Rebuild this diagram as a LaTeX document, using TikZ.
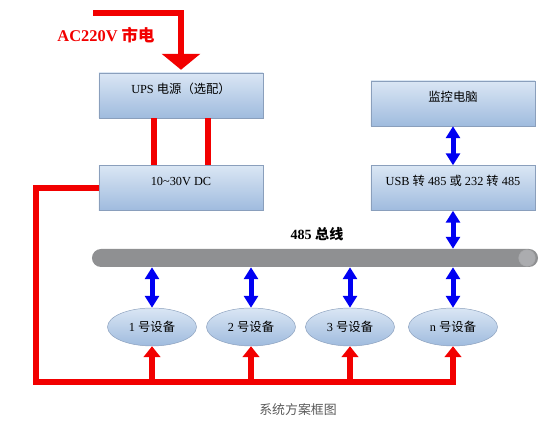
\documentclass[tikz,border=0pt]{standalone}
\usepackage{fontspec}
\setmainfont{Liberation Serif}
\newfontfamily\cjk{Noto Sans CJK SC}
\usetikzlibrary{arrows.meta, shapes.geometric}
\definecolor{boxtop}{HTML}{DAE6F4}
\definecolor{boxbot}{HTML}{9FBBDE}
\definecolor{boxline}{HTML}{8A9FBC}
\definecolor{buscol}{HTML}{8F9092}
\definecolor{capcol}{HTML}{ABACAF}
\definecolor{pwr}{HTML}{F20000}
\definecolor{sig}{HTML}{0000F2}
\definecolor{capt}{HTML}{5A5A5A}

\begin{document}
\begin{tikzpicture}[x=0.03cm,y=-0.03cm,
  unit/.style={draw=boxline,top color=boxtop,bottom color=boxbot,inner sep=0pt,
    minimum width=4.92cm,minimum height=1.35cm,font=\fontsize{10.5}{12}\selectfont,
    text height=0.25cm,text depth=0.38cm},
  dev/.style={ellipse,draw=boxline,top color=boxtop,bottom color=boxbot,inner sep=0pt,
    minimum width=2.67cm,minimum height=1.14cm,font=\fontsize{10.5}{12}\selectfont},
  pline/.style={pwr,line width=0.16cm},
  pup/.style={pline,-{Triangle[width=0.5cm,length=0.33cm]}},
  sline/.style={sig,line width=0.15cm,{Triangle[width=0.42cm,length=0.36cm]}-{Triangle[width=0.42cm,length=0.36cm]}}]
\useasboundingbox (0,0) rectangle (551,428);
% boxes
\node[unit] (ups) at (181,95.5) {UPS {\cjk 电源（选配）}};
\node[unit] (dc)  at (181,188)  {10\textasciitilde30V DC};
\node[unit] (pc)  at (453,103.5) {\cjk 监控电脑};
\node[unit] (usb) at (453,188)  {USB {\cjk 转} 485 {\cjk 或} 232 {\cjk 转} 485};
% bus
\node[fill=buscol,rounded corners=0.27cm,minimum width=13.38cm,minimum height=0.54cm,inner sep=0pt] (bus) at (315,258) {};
\node[circle,fill=capcol,draw=buscol!80,line width=0.4pt,minimum size=0.5cm,inner sep=0pt] (buscap) at (527,258) {};
\node[font=\fontsize{12}{14}\selectfont\bfseries] (buslbl) at (317,234) {485 {\cjk\bfseries 总线}};
% devices
\node[dev] (d1) at (152,327) {1 {\cjk 号设备}};
\node[dev] (d2) at (251,327) {2 {\cjk 号设备}};
\node[dev] (d3) at (350,327) {3 {\cjk 号设备}};
\node[dev] (dn) at (453,327) {n {\cjk 号设备}};
% mains input
\node[pwr,font=\fontsize{14}{16}\selectfont\bfseries] (ac) at (106,35) {AC220V {\cjk\bfseries 市电}};
\coordinate (acin) at (93,13);
\draw[pwr,line width=0.18cm,-{Triangle[width=1.14cm,length=0.48cm]}] (acin) -| ([yshift=0.09cm]ups.north);
% ups to dc
\draw[pline] ([xshift=-0.81cm]ups.south) -- ([xshift=-0.81cm]dc.north);
\draw[pline] ([xshift=0.81cm]ups.south) -- ([xshift=0.81cm]dc.north);
% power rail to devices
\coordinate (pbl) at (36,382);
\draw[pline,line join=miter] (dc.west) -| (pbl) -- ([xshift=0.08cm]dn |- pbl);
\foreach \d in {d1,d2,d3,dn}
  \draw[pup] (\d |- pbl) -- (\d.south);
% signal links
\draw[sline] (pc.south) -- (usb.north);
\draw[sline] (usb.south) -- (bus.north -| usb);
\foreach \d in {d1,d2,d3,dn}
  \draw[sline] (bus.south -| \d) -- (\d.north);
% caption
\node[capt,font=\fontsize{11}{13}\selectfont] (caption) at (298,410) {\cjk 系统方案框图};
\end{tikzpicture}
\end{document}
